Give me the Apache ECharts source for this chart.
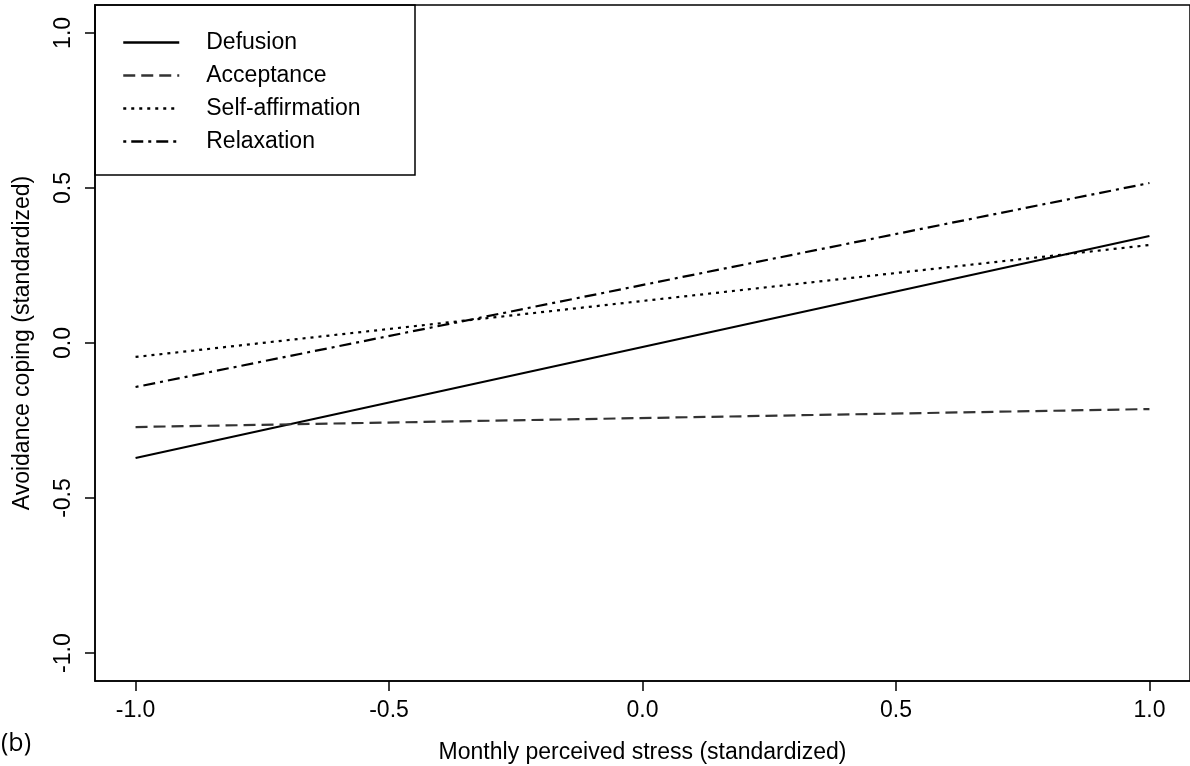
<!DOCTYPE html>
<html>
<head>
<meta charset="utf-8">
<script src="https://cdn.jsdelivr.net/npm/echarts@6/dist/echarts.min.js"></script>
<style>
  html, body { margin: 0; padding: 0; background: #fff; }
  #chart { width: 1190px; height: 766px; }
</style>
</head>
<body>
<div id="chart"></div>
<script>
// stress levels (x) and fitted avoidance coping (y) per condition
let stress = [-1.0, 1.0];
let defusion = [-0.371, 0.345];
let acceptance = [-0.271, -0.213];
let selfAffirmation = [-0.045, 0.316];
let relaxation = [-0.142, 0.516];
let tickVals = [-1.0, -0.5, 0.0, 0.5, 1.0];

let names = ['Defusion', 'Acceptance', 'Self-affirmation', 'Relaxation'];
let values = [defusion, acceptance, selfAffirmation, relaxation];
let dashes = ['solid', [12, 6], [3, 5], [3, 5, 12, 5]];
let font = 'Liberation Sans, Arial, sans-serif';

function pairs(ys) {
    return stress.map(function (x, i) { return [x, ys[i]]; });
}

let myChart = echarts.init(document.getElementById('chart'));
myChart.setOption({
    animation: false,
    grid: {
        left: 95, right: 0, top: 5, bottom: 85,
        outerBoundsMode: 'none',
        show: true, borderColor: '#000', borderWidth: 1.5
    },
    legend: {
        orient: 'vertical',
        left: 117, top: 26,
        itemWidth: 56, itemHeight: 20, itemGap: 10,
        itemStyle: { opacity: 0 },
        lineStyle: { width: 2.5 },
        textStyle: { fontFamily: font, fontSize: 23, lineHeight: 23, color: '#000', padding: [0, 0, 0, 22] },
        data: names
    },
    graphic: [{
        type: 'rect',
        shape: { x: 95, y: 5, width: 320, height: 170 },
        style: { fill: '#fff', stroke: '#000', lineWidth: 1.5 },
        z: -1
    }, {
        type: 'text',
        left: 1, top: 731,
        style: { text: '(b)', fontFamily: 'Open Sans, sans-serif', fontSize: 25, fill: '#000' }
    }],
    xAxis: {
        type: 'value',
        min: -1.08, max: 1.08,
        name: 'Monthly perceived stress (standardized)',
        nameLocation: 'middle', nameGap: 60,
        nameTextStyle: { fontFamily: font, fontSize: 23, color: '#000' },
        axisLine: { onZero: false, lineStyle: { color: '#000', width: 1.5 } },
        axisTick: { show: true, length: 10, customValues: tickVals, lineStyle: { color: '#000', width: 1.5 } },
        axisLabel: {
            customValues: tickVals, margin: 18,
            fontFamily: font, fontSize: 23, color: '#000',
            formatter: function (v) { return v.toFixed(1); }
        },
        splitLine: { show: false }
    },
    yAxis: {
        type: 'value',
        min: -1.09, max: 1.09,
        name: 'Avoidance coping (standardized)',
        nameLocation: 'middle', nameGap: 61, nameRotate: 90,
        nameTextStyle: { fontFamily: font, fontSize: 23, color: '#000' },
        axisLine: { show: true, onZero: false, lineStyle: { color: '#000', width: 1.5 } },
        axisTick: { show: true, length: 10, customValues: tickVals, lineStyle: { color: '#000', width: 1.5 } },
        axisLabel: {
            customValues: tickVals, rotate: 90, margin: 20,
            fontFamily: font, fontSize: 23, color: '#000',
            formatter: function (v) { return v.toFixed(1); }
        },
        splitLine: { show: false }
    },
    series: names.map(function (n, i) {
        return {
            name: n,
            type: 'line',
            symbol: 'none',
            data: pairs(values[i]),
            lineStyle: { color: i === 1 ? '#333' : '#000', width: 2.2, type: dashes[i] },
            itemStyle: { color: '#000' }
        };
    })
});
</script>
</body>
</html>
